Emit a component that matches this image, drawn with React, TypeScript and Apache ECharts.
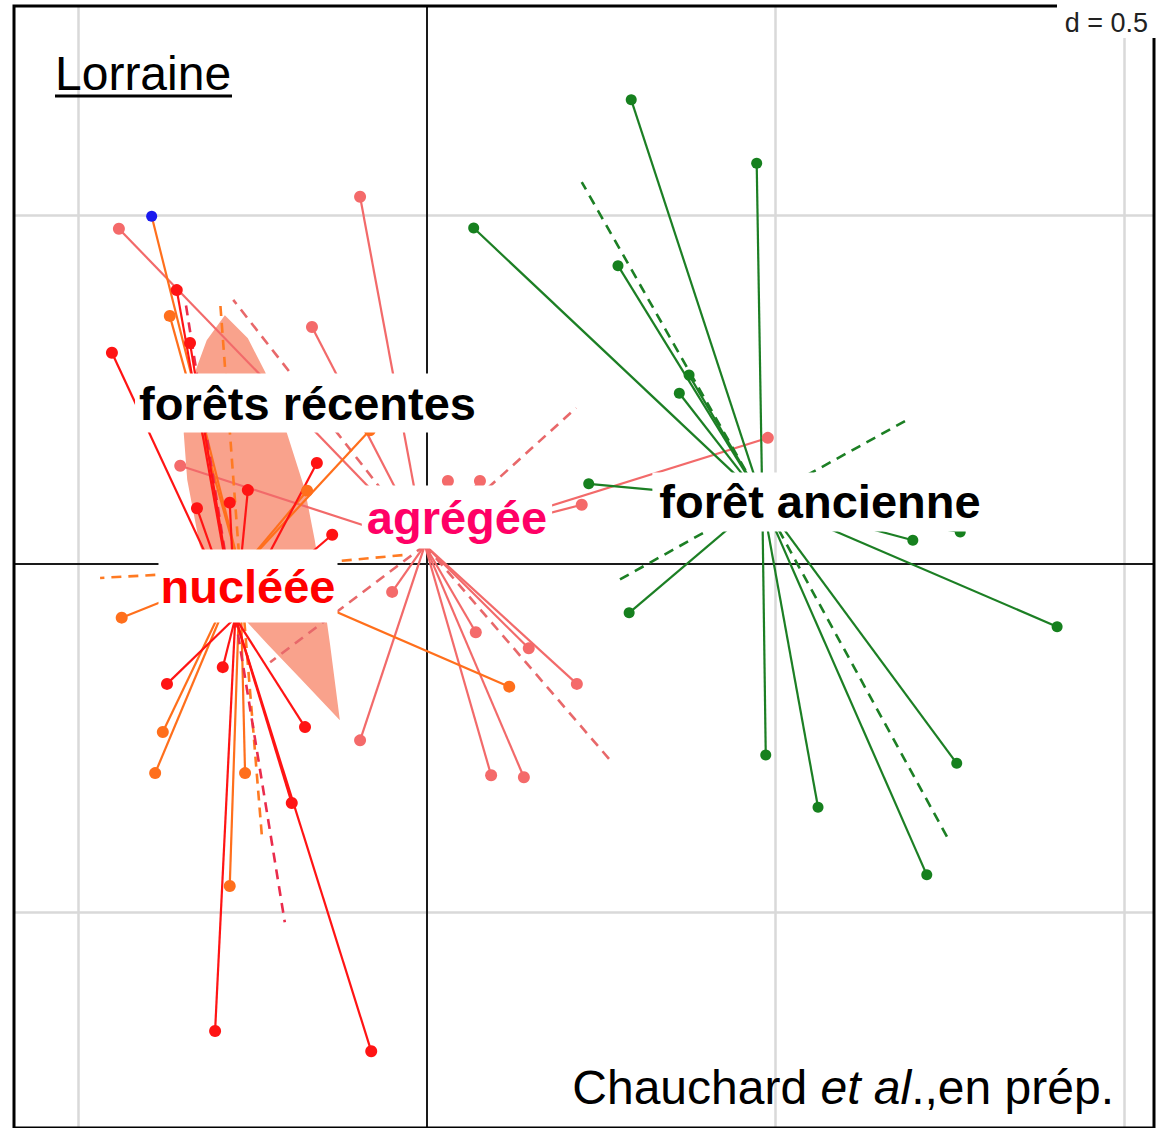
import React, { useEffect, useRef } from 'react';
import * as echarts from 'echarts';

// axis extents (units; d = 0.5 grid spacing)
const xMin = -0.5925, xMax = 1.043, yMin = -0.8092, yMax = 0.8006;
const gridX = [-0.5, 0.5, 1.0];
const gridY = [0.5, -0.5];

// forêt ancienne (green)
const centerAncienne = [0.481, 0.092];
const ancienneSolid = [
  [0.293, 0.666], [0.473, 0.575], [0.067, 0.482], [0.274, 0.428], [0.376, 0.271],
  [0.362, 0.245], [0.232, 0.115], [0.290, -0.070], [0.697, 0.034], [0.765, 0.046],
  [0.904, -0.090], [0.486, -0.274], [0.760, -0.286], [0.561, -0.349], [0.717, -0.446],
];
const ancienneDashed = [[0.222, 0.548], [0.693, 0.209], [0.270, -0.026], [0.747, -0.393]];

// agrégée (pink)
const centerAgregee = [-0.003, 0.027];
const agregeeSolid = [
  [-0.096, 0.527], [-0.442, 0.481], [-0.165, 0.340], [0.030, 0.119], [0.076, 0.119],
  [0.222, 0.085], [0.489, 0.181], [-0.050, -0.040], [0.070, -0.098], [0.146, -0.121],
  [0.215, -0.172], [-0.096, -0.253], [0.092, -0.303], [0.139, -0.306], [-0.354, 0.141],
];
const agregeeDashed = [[0.214, 0.224], [0.265, -0.284], [-0.225, -0.141], [-0.278, 0.379]];

// nucléée (red)
const centerNucleee = [-0.275, -0.077];
const nucleeeSolid = [
  [-0.452, 0.303], [-0.359, 0.393], [-0.304, -0.670], [-0.080, -0.699], [-0.194, -0.343],
  [-0.175, -0.234], [-0.373, -0.172], [-0.293, -0.148], [-0.158, 0.145], [-0.136, 0.042],
  [-0.330, 0.080], [-0.257, 0.106], [-0.283, 0.088], [-0.340, 0.317],
];
const nucleeeDashed = [[-0.347, 0.379], [-0.204, -0.514]];

// orange group
const centerOrange = [-0.268, -0.009];
const orangeSolid = [
  [-0.369, 0.356], [-0.438, -0.077], [-0.390, -0.300], [-0.379, -0.241], [-0.283, -0.462],
  [-0.261, -0.300], [0.118, -0.176], [-0.172, 0.105], [-0.082, 0.192],
];
const orangeBlue = [[-0.395, 0.499]];
const orangeDashed = [[-0.297, 0.379], [-0.469, -0.020], [-0.237, -0.389], [-0.032, 0.013]];

// salmon envelope
const envelope = [
  [-0.290, 0.357], [-0.257, 0.324], [-0.232, 0.275], [-0.201, 0.188], [-0.175, 0.106],
  [-0.161, 0.034], [-0.151, -0.030], [-0.139, -0.116], [-0.125, -0.224], [-0.182, -0.164],
  [-0.228, -0.116], [-0.261, -0.080], [-0.304, -0.030], [-0.326, 0.027], [-0.344, 0.121],
  [-0.349, 0.188], [-0.337, 0.264], [-0.316, 0.321],
];

// class labels
const classLabels = [
  { name: 'forêts récentes', pos: [-0.1714, 0.231], color: '#000000', pad: [6, 4, 6, 4] },
  { name: 'forêt ancienne', pos: [0.5638, 0.089], color: '#000000', pad: [6, 7, 6, 7] },
  { name: 'agrégée', pos: [0.043, 0.0674], color: '#ff0066', pad: [8, 5, 8, 5] },
  { name: 'nucléée', pos: [-0.2568, -0.0316], color: '#ff0000', pad: [13, 2, 13, 2] },
];

const FONT = '"Liberation Sans", Arial, Helvetica, sans-serif';

function starLines(center: number[], pts: number[][], color: string, dashed: boolean, z: number) {
  return {
    type: 'lines',
    coordinateSystem: 'cartesian2d',
    silent: true,
    z,
    data: pts.map((p) => ({ coords: [center, p] })),
    lineStyle: { color, width: dashed ? 2.6 : 2.2, type: dashed ? [10, 7] : 'solid', opacity: 1, curveness: 0 },
  };
}

function dots(pts: number[][], color: string, size: number, z: number) {
  return {
    type: 'scatter',
    silent: true,
    z,
    data: pts,
    symbol: 'circle',
    symbolSize: size,
    itemStyle: { color, opacity: 1 },
  };
}

export default function App() {
  const ref = useRef<HTMLDivElement>(null);
  useEffect(() => {
    if (!ref.current) return;
    const chart = echarts.init(ref.current, undefined, { renderer: 'svg' });
    const gridLines = [
      ...gridX.map((v) => ({ coords: [[v, yMin], [v, yMax]] })),
      ...gridY.map((v) => ({ coords: [[xMin, v], [xMax, v]] })),
    ];
    const zeroLines = [
      { coords: [[0, yMin], [0, yMax]] },
      { coords: [[xMin, 0], [xMax, 0]] },
    ];
    const option: any = {
      animation: false,
      backgroundColor: '#ffffff',
      grid: { left: 14, top: 6, width: 1140, height: 1122, show: true, borderColor: '#000', borderWidth: 3, backgroundColor: 'transparent', z: 10 },
      xAxis: { type: 'value', min: xMin, max: xMax, show: false },
      yAxis: { type: 'value', min: yMin, max: yMax, show: false },
      series: [
        { type: 'lines', coordinateSystem: 'cartesian2d', silent: true, z: 1, data: gridLines, lineStyle: { color: '#d9d9d9', width: 2.5, opacity: 1 } },
        { type: 'lines', coordinateSystem: 'cartesian2d', silent: true, z: 2, data: zeroLines, lineStyle: { color: '#1a1a1a', width: 2, opacity: 1 } },
        {
          type: 'custom',
          silent: true,
          z: 3,
          data: envelope,
          encode: { x: 0, y: 1 },
          renderItem: (params: any, api: any) => {
            if (params.dataIndex !== 0) return null;
            const points = envelope.map((p) => api.coord(p));
            return { type: 'polygon', shape: { points }, style: { fill: '#f9a28c' } };
          },
        },
        starLines(centerAgregee, agregeeDashed, '#e8686a', true, 4),
        starLines(centerAgregee, agregeeSolid, '#f26a6a', false, 4),
        starLines(centerOrange, orangeDashed, '#ff7a22', true, 5),
        starLines(centerOrange, orangeSolid, '#ff6f1c', false, 5),
        starLines(centerOrange, orangeBlue, '#ff6f1c', false, 5),
        starLines(centerNucleee, nucleeeDashed, '#ea2c4c', true, 6),
        starLines(centerNucleee, nucleeeSolid, '#ff1414', false, 6),
        starLines(centerAncienne, ancienneDashed, '#1c7f24', true, 6),
        starLines(centerAncienne, ancienneSolid, '#1c7f24', false, 6),
        dots(agregeeSolid, '#f46a6a', 12, 7),
        dots(orangeSolid, '#ff6f1c', 12, 7),
        dots(orangeBlue, '#1a1aee', 11, 7),
        dots(nucleeeSolid, '#ff1414', 12, 7),
        dots(ancienneSolid, '#16801e', 11, 7),
        {
          type: 'scatter',
          silent: true,
          z: 20,
          symbolSize: 0.5,
          itemStyle: { color: '#ffffff', opacity: 1 },
          emphasis: { disabled: true },
          data: classLabels.map((c) => ({
            name: c.name,
            value: c.pos,
            label: {
              show: true,
              position: 'inside',
              formatter: c.name,
              color: c.color,
              opacity: 1,
              fontSize: 47,
              fontWeight: 'bold',
              fontFamily: FONT,
              lineHeight: 47,
              backgroundColor: '#ffffff',
              padding: c.pad,
            },
          })),
        },
      ],
      graphic: [
        { type: 'rect', z: 50, shape: { x: 1057, y: 0, width: 101, height: 38 }, style: { fill: '#ffffff' } },
        { type: 'text', z: 51, x: 1148, y: 23, style: { text: 'd = 0.5', fill: '#222', font: `27px ${FONT}`, align: 'right', verticalAlign: 'middle' } },
        { type: 'text', z: 51, x: 55, y: 73, style: { text: 'Lorraine', fill: '#000', font: `48px ${FONT}`, align: 'left', verticalAlign: 'middle' } },
        { type: 'line', z: 51, shape: { x1: 55, y1: 96, x2: 232, y2: 96 }, style: { stroke: '#000', lineWidth: 3 } },
        {
          type: 'text', z: 51, x: 1114, y: 1087,
          style: {
            text: '{n|Chauchard }{i|et al}{n|.,en prép.}',
            align: 'right', verticalAlign: 'middle',
            rich: {
              n: { fontSize: 48, fontFamily: FONT, fill: '#000', color: '#000' },
              i: { fontSize: 48, fontFamily: FONT, fontStyle: 'italic', fill: '#000', color: '#000' },
            },
          },
        },
      ],
    };
    chart.setOption(option);
    return () => chart.dispose();
  }, []);
  return <div ref={ref} style={{ position: 'absolute', left: 0, top: 0, width: 1158, height: 1128 }} />;
}
